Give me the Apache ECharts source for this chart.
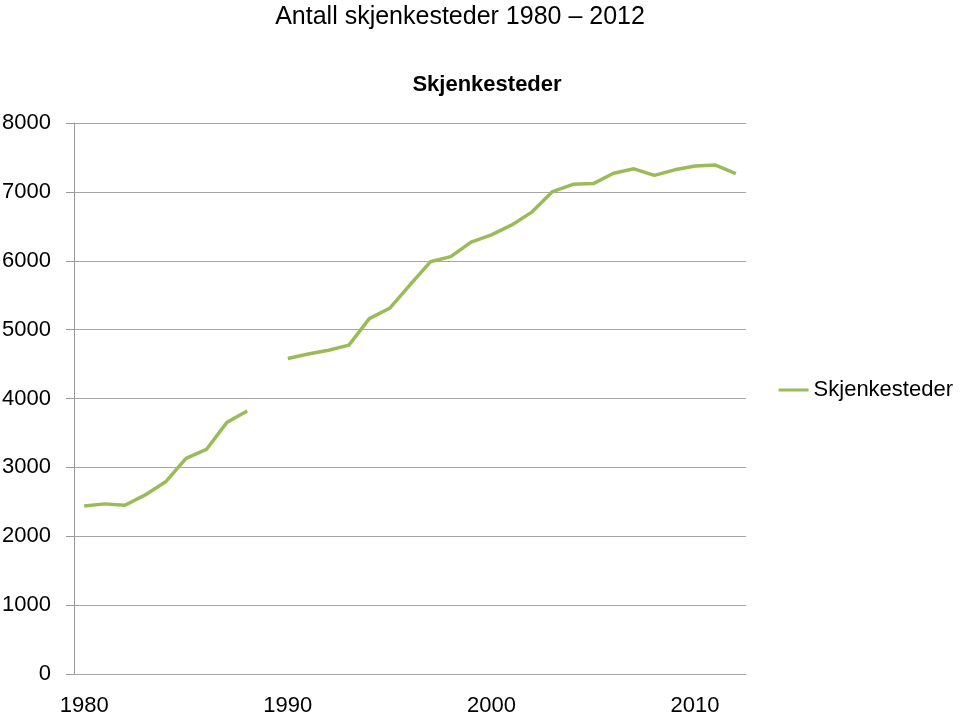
<!DOCTYPE html>
<html>
<head>
<meta charset="utf-8">
<script src="https://cdn.jsdelivr.net/npm/echarts@6/dist/echarts.min.js"></script>
<style>
  html, body { margin: 0; padding: 0; background: #fff; }
  #chart { width: 960px; height: 716px; }
</style>
</head>
<body>
<div id="chart"></div>
<script>
// years 1980 - 2012, 1989 is missing in the source
const years = []
for (let y = 1980; y <= 2012; y++) years.push(String(y))

const skjenkesteder = [
  2440, 2470, 2450, 2600, 2790, 3130, 3260, 3650, 3820, null,
  4580, 4645, 4700, 4775, 5160, 5310, 5650, 5985, 6060, 6270,
  6375, 6520, 6710, 7005, 7110, 7120, 7270, 7335, 7240, 7320,
  7375, 7390, 7265
]

const font = "'Liberation Sans', Arial, sans-serif"
const green = '#9bbb59'
const gray = '#a6a6a6'

var mychart = echarts.init(document.getElementById('chart'))

let option = {
  backgroundColor: '#fff',
  animation: false,
  title: [
    {
      text: 'Antall skjenkesteder 1980 – 2012',
      left: 455, top: 0, textAlign: 'center',
      textStyle: { fontFamily: font, fontSize: 25, fontWeight: 'normal', color: '#000' }
    },
    {
      text: 'Skjenkesteder',
      left: 482, top: 69, textAlign: 'center',
      textStyle: { fontFamily: font, fontSize: 22, fontWeight: 'bold', color: '#000' }
    }
  ],
  legend: {
    right: 2, top: 374,
    itemWidth: 30, itemHeight: 3, itemGap: 6,
    icon: 'rect',
    textStyle: { fontFamily: font, fontSize: 22, color: '#000' },
    data: ['Skjenkesteder']
  },
  grid: { left: 74, right: 214, top: 123, bottom: 42, outerBoundsMode: 'none' },
  xAxis: {
    type: 'category',
    data: years,
    boundaryGap: true,
    axisLine: { lineStyle: { color: gray, width: 1 } },
    axisTick: { show: false },
    axisLabel: {
      interval: 9,
      margin: 21,
      fontFamily: font, fontSize: 22, color: '#000'
    }
  },
  yAxis: {
    type: 'value',
    min: 0, max: 8000, interval: 1000,
    axisLine: { show: true, lineStyle: { color: '#999', width: 1 } },
    axisTick: { show: true, inside: false, length: 8, lineStyle: { color: '#999', width: 1 } },
    splitLine: { lineStyle: { color: gray, width: 1 } },
    axisLabel: {
      margin: 23,
      formatter: v => String(v),
      fontFamily: font, fontSize: 22, color: '#000'
    }
  },
  series: [
    {
      name: 'Skjenkesteder',
      type: 'line',
      data: skjenkesteder,
      connectNulls: false,
      showSymbol: false,
      symbol: 'none',
      itemStyle: { color: green },
      lineStyle: { color: green, width: 3.5 }
    }
  ]
}
mychart.setOption(option)
</script>
</body>
</html>
